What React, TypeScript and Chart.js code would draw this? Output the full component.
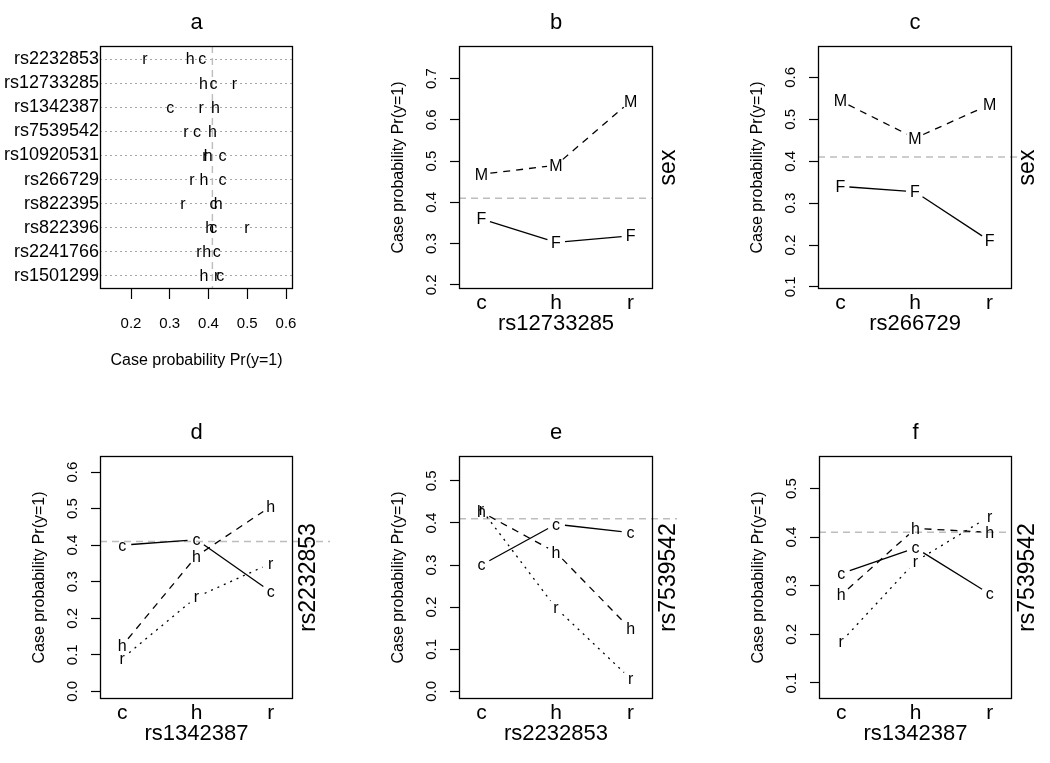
import React, { useEffect, useRef } from "react";
import { Chart, registerables } from "chart.js";
Chart.register(...registerables);

const FONT = "'Liberation Sans', Arial, Helvetica, sans-serif";

// ---------- Panel a (dot chart) ----------
const snpNames = ["rs2232853", "rs12733285", "rs1342387", "rs7539542", "rs10920531", "rs266729", "rs822395", "rs822396", "rs2241766", "rs1501299"];
const aValuesC = [0.384, 0.413, 0.301, 0.370, 0.436, 0.436, 0.413, 0.412, 0.421, 0.430];
const aValuesH = [0.353, 0.387, 0.418, 0.410, 0.399, 0.388, 0.425, 0.403, 0.395, 0.388];
const aValuesR = [0.236, 0.467, 0.381, 0.342, 0.391, 0.357, 0.334, 0.499, 0.375, 0.421];
const aTicks = [0.2, 0.3, 0.4, 0.5, 0.6];

// ---------- Interaction panels ----------
const genotypes = ["c", "h", "r"];
const refLine = 0.41;
const yTitle = "Case probability Pr(y=1)";

// b: rs12733285 x sex
const bF = [0.36, 0.303, 0.319];
const bM = [0.468, 0.49, 0.645];
const bTicks = [0.2, 0.3, 0.4, 0.5, 0.6, 0.7];
// c: rs266729 x sex
const cF = [0.34, 0.327, 0.21];
const cM = [0.544, 0.455, 0.535];
const cTicks = [0.1, 0.2, 0.3, 0.4, 0.5, 0.6];
// d: rs1342387 x rs2232853
const dC = [0.40, 0.415, 0.273];
const dH = [0.125, 0.37, 0.506];
const dR = [0.09, 0.258, 0.35];
const dTicks = [0.0, 0.1, 0.2, 0.3, 0.4, 0.5, 0.6];
// e: rs2232853 x rs7539542
const eC = [0.30, 0.397, 0.377];
const eH = [0.426, 0.33, 0.148];
const eR = [0.432, 0.198, 0.03];
const eTicks = [0.0, 0.1, 0.2, 0.3, 0.4, 0.5];
// f: rs1342387 x rs7539542
const fC = [0.325, 0.378, 0.283];
const fH = [0.281, 0.418, 0.41];
const fR = [0.185, 0.35, 0.443];
const fTicks = [0.1, 0.2, 0.3, 0.4, 0.5];

const SOLID: number[] = [];
const DASHED = [7, 6];
const DOTTED = [2, 5];

type Box = { l: number; r: number; t: number; b: number };

function rotText(ctx: CanvasRenderingContext2D, text: string, x: number, y: number, font: string) {
  ctx.save();
  ctx.translate(x, y);
  ctx.rotate(-Math.PI / 2);
  ctx.font = font;
  ctx.fillStyle = "#000";
  ctx.textAlign = "center";
  ctx.textBaseline = "middle";
  ctx.fillText(text, 0, 0);
  ctx.restore();
}

function drawBox(ctx: CanvasRenderingContext2D, a: any) {
  ctx.save();
  ctx.strokeStyle = "#000";
  ctx.lineWidth = 1.3;
  ctx.setLineDash([]);
  ctx.strokeRect(Math.round(a.left) + 0.5, Math.round(a.top) + 0.5, Math.round(a.right - a.left) - 1, Math.round(a.bottom - a.top) - 1);
  ctx.restore();
}

function drawTitle(ctx: CanvasRenderingContext2D, a: any, title: string) {
  ctx.save();
  ctx.font = `22px ${FONT}`;
  ctx.fillStyle = "#000";
  ctx.textAlign = "center";
  ctx.textBaseline = "alphabetic";
  ctx.fillText(title, (a.left + a.right) / 2, a.top - 17);
  ctx.restore();
}

function dotConfig(canvasW: number, canvasH: number, box: Box): any {
  const n = snpNames.length;
  const mk = (vals: number[]) => vals.map((v, i) => ({ x: v, y: n - i }));
  const plugin = {
    id: "dotDecor",
    afterDatasetsDraw(chart: any) {
      const ctx = chart.ctx as CanvasRenderingContext2D;
      const a = chart.chartArea;
      const xs = chart.scales.x;
      // reference line
      const px = xs.getPixelForValue(refLine);
      ctx.save();
      ctx.strokeStyle = "#bdbdbd";
      ctx.lineWidth = 1.4;
      ctx.setLineDash([7, 5]);
      ctx.beginPath();
      ctx.moveTo(px, a.top);
      ctx.lineTo(px, a.bottom);
      ctx.stroke();
      ctx.restore();
      // letters
      ctx.save();
      ctx.font = `16px ${FONT}`;
      ctx.fillStyle = "#000";
      ctx.textAlign = "center";
      ctx.textBaseline = "middle";
      chart.data.datasets.forEach((ds: any, di: number) => {
        const meta = chart.getDatasetMeta(di);
        meta.data.forEach((pt: any) => ctx.fillText(ds.label, pt.x, pt.y + 1));
      });
      ctx.restore();
      drawBox(ctx, a);
      drawTitle(ctx, a, "a");
      ctx.save();
      ctx.font = `16px ${FONT}`;
      ctx.fillStyle = "#000";
      ctx.textAlign = "center";
      ctx.textBaseline = "middle";
      ctx.fillText(yTitle, (a.left + a.right) / 2, a.bottom + 72);
      ctx.restore();
    },
  };
  return {
    type: "scatter",
    data: {
      datasets: [
        { label: "r", data: mk(aValuesR), pointRadius: 0 },
        { label: "h", data: mk(aValuesH), pointRadius: 0 },
        { label: "c", data: mk(aValuesC), pointRadius: 0 },
      ],
    },
    options: {
      animation: false,
      responsive: false,
      devicePixelRatio: 1,
      layout: { padding: { left: 0, top: box.t, right: canvasW - box.r, bottom: 0 } },
      plugins: { legend: { display: false }, tooltip: { enabled: false }, title: { display: false } },
      scales: {
        x: {
          type: "linear",
          min: 0.12,
          max: 0.618,
          afterBuildTicks: (s: any) => { s.ticks = aTicks.map((v) => ({ value: v })); },
          afterFit: (s: any) => { s.height = canvasH - box.b; },
          ticks: { callback: (v: any) => Number(v).toFixed(1), font: { size: 15, family: FONT }, color: "#000", padding: 16, maxRotation: 0, autoSkip: false },
          grid: { display: true, drawOnChartArea: false, drawTicks: true, tickLength: 10, tickColor: "#000", tickWidth: 1.2 },
          border: { display: false },
        },
        y: {
          type: "linear",
          min: 0.46,
          max: 10.54,
          afterBuildTicks: (s: any) => { s.ticks = snpNames.map((_, i) => ({ value: i + 1 })); },
          afterFit: (s: any) => { s.width = box.l; },
          ticks: { callback: (v: any) => snpNames[n - Number(v)], font: { size: 18, family: FONT }, color: "#000", padding: 1, autoSkip: false },
          grid: { display: true, drawOnChartArea: true, drawTicks: false, color: "#a8a8a8", lineWidth: 1 },
          border: { display: false, dash: [2, 3] },
        },
      },
    },
    plugins: [plugin],
  };
}

type Series = { label: string; values: number[]; dash: number[] };

function interactionConfig(p: {
  canvasW: number; canvasH: number; box: Box; title: string; xTitle: string; rightLabel: string;
  series: Series[]; yMin: number; yMax: number; yTicks: number[]; refExt: number;
}): any {
  const plugin = {
    id: "interDecor",
    afterDatasetsDraw(chart: any) {
      const ctx = chart.ctx as CanvasRenderingContext2D;
      const a = chart.chartArea;
      const ys = chart.scales.y;
      // reference line
      const py = ys.getPixelForValue(refLine);
      ctx.save();
      ctx.strokeStyle = "#bdbdbd";
      ctx.lineWidth = 1.4;
      ctx.setLineDash([7, 5]);
      ctx.beginPath();
      ctx.moveTo(a.left, py);
      ctx.lineTo(a.right + p.refExt, py);
      ctx.stroke();
      ctx.restore();
      // series lines with gaps (type "b")
      const gap = 9;
      chart.data.datasets.forEach((ds: any, di: number) => {
        const pts = chart.getDatasetMeta(di).data;
        ctx.save();
        ctx.strokeStyle = "#000";
        ctx.lineWidth = 1.3;
        ctx.setLineDash(ds.dashStyle);
        for (let i = 0; i < pts.length - 1; i++) {
          const x0 = pts[i].x, y0 = pts[i].y, x1 = pts[i + 1].x, y1 = pts[i + 1].y;
          const len = Math.hypot(x1 - x0, y1 - y0);
          if (len <= 2 * gap) continue;
          const ux = (x1 - x0) / len, uy = (y1 - y0) / len;
          ctx.beginPath();
          ctx.moveTo(x0 + ux * gap, y0 + uy * gap);
          ctx.lineTo(x1 - ux * gap, y1 - uy * gap);
          ctx.stroke();
        }
        ctx.restore();
      });
      // letters
      ctx.save();
      ctx.font = `16px ${FONT}`;
      ctx.fillStyle = "#000";
      ctx.textAlign = "center";
      ctx.textBaseline = "middle";
      chart.data.datasets.forEach((ds: any, di: number) => {
        chart.getDatasetMeta(di).data.forEach((pt: any) => ctx.fillText(ds.label, pt.x, pt.y + 1));
      });
      ctx.restore();
      drawBox(ctx, a);
      drawTitle(ctx, a, p.title);
      // y tick labels (rotated, as in R)
      ys.ticks.forEach((t: any) => {
        rotText(ctx, Number(t.value).toFixed(1), a.left - 27, ys.getPixelForValue(t.value), `15px ${FONT}`);
      });
      const cy = (a.top + a.bottom) / 2;
      rotText(ctx, yTitle, a.left - 60, cy, `16px ${FONT}`);
      rotText(ctx, p.rightLabel, a.right + 16, cy, `23px ${FONT}`);
      ctx.save();
      ctx.font = `22px ${FONT}`;
      ctx.fillStyle = "#000";
      ctx.textAlign = "center";
      ctx.textBaseline = "middle";
      ctx.fillText(p.xTitle, (a.left + a.right) / 2, a.bottom + 35);
      ctx.restore();
    },
  };
  return {
    type: "scatter",
    data: {
      datasets: p.series.map((s) => ({
        label: s.label,
        dashStyle: s.dash,
        data: s.values.map((v, i) => ({ x: i + 1, y: v })),
        pointRadius: 0,
        showLine: false,
      })),
    },
    options: {
      animation: false,
      responsive: false,
      devicePixelRatio: 1,
      layout: { padding: { left: 0, top: p.box.t, right: p.canvasW - p.box.r, bottom: 0 } },
      plugins: { legend: { display: false }, tooltip: { enabled: false }, title: { display: false } },
      scales: {
        x: {
          type: "linear",
          min: 0.7,
          max: 3.3,
          afterBuildTicks: (s: any) => { s.ticks = genotypes.map((_, i) => ({ value: i + 1 })); },
          afterFit: (s: any) => { s.height = p.canvasH - p.box.b; },
          ticks: { callback: (v: any) => genotypes[Number(v) - 1], font: { size: 21, family: FONT }, color: "#000", padding: -6, maxRotation: 0, autoSkip: false },
          grid: { display: false },
          border: { display: false },
        },
        y: {
          type: "linear",
          min: p.yMin,
          max: p.yMax,
          afterBuildTicks: (s: any) => { s.ticks = p.yTicks.map((v) => ({ value: v })); },
          afterFit: (s: any) => { s.width = p.box.l; },
          ticks: { display: false },
          grid: { display: true, drawOnChartArea: false, drawTicks: true, tickLength: 9, tickColor: "#000", tickWidth: 1.2 },
          border: { display: false },
        },
      },
    },
    plugins: [plugin],
  };
}

function ChartPanel(props: { left: number; top: number; width: number; height: number; make: () => any }) {
  const ref = useRef<HTMLCanvasElement>(null);
  useEffect(() => {
    const chart = new Chart(ref.current as HTMLCanvasElement, props.make());
    return () => chart.destroy();
  }, []);
  return (
    <canvas
      ref={ref}
      width={props.width}
      height={props.height}
      style={{ position: "absolute", left: props.left, top: props.top, width: props.width, height: props.height }}
    />
  );
}

export default function App() {
  const W = 350;
  const H1 = 400;
  const H2 = 363;
  return (
    <div style={{ position: "absolute", left: 0, top: 0, width: 1050, height: 763, background: "#fff", overflow: "hidden" }}>
      <ChartPanel left={0} top={0} width={W} height={H1} make={() => dotConfig(W, H1, { l: 100, r: 293, t: 46, b: 289 })} />
      <ChartPanel
        left={350} top={0} width={W} height={H1}
        make={() => interactionConfig({
          canvasW: W, canvasH: H1, box: { l: 109, r: 303, t: 46, b: 289 }, title: "b", xTitle: "rs12733285", rightLabel: "sex",
          series: [{ label: "F", values: bF, dash: SOLID }, { label: "M", values: bM, dash: DASHED }],
          yMin: 0.19, yMax: 0.779, yTicks: bTicks, refExt: 0,
        })}
      />
      <ChartPanel
        left={700} top={0} width={W} height={H1}
        make={() => interactionConfig({
          canvasW: W, canvasH: H1, box: { l: 118, r: 312, t: 46, b: 289 }, title: "c", xTitle: "rs266729", rightLabel: "sex",
          series: [{ label: "F", values: cF, dash: SOLID }, { label: "M", values: cM, dash: DASHED }],
          yMin: 0.095, yMax: 0.675, yTicks: cTicks, refExt: 21,
        })}
      />
      <ChartPanel
        left={0} top={400} width={W} height={H2}
        make={() => interactionConfig({
          canvasW: W, canvasH: H2, box: { l: 100, r: 293, t: 56, b: 299 }, title: "d", xTitle: "rs1342387", rightLabel: "rs2232853",
          series: [{ label: "c", values: dC, dash: SOLID }, { label: "h", values: dH, dash: DASHED }, { label: "r", values: dR, dash: DOTTED }],
          yMin: -0.021, yMax: 0.644, yTicks: dTicks, refExt: 37,
        })}
      />
      <ChartPanel
        left={350} top={400} width={W} height={H2}
        make={() => interactionConfig({
          canvasW: W, canvasH: H2, box: { l: 109, r: 303, t: 56, b: 299 }, title: "e", xTitle: "rs2232853", rightLabel: "rs7539542",
          series: [{ label: "c", values: eC, dash: SOLID }, { label: "h", values: eH, dash: DASHED }, { label: "r", values: eR, dash: DOTTED }],
          yMin: -0.018, yMax: 0.559, yTicks: eTicks, refExt: 24,
        })}
      />
      <ChartPanel
        left={700} top={400} width={W} height={H2}
        make={() => interactionConfig({
          canvasW: W, canvasH: H2, box: { l: 119, r: 312, t: 56, b: 299 }, title: "f", xTitle: "rs1342387", rightLabel: "rs7539542",
          series: [{ label: "c", values: fC, dash: SOLID }, { label: "h", values: fH, dash: DASHED }, { label: "r", values: fR, dash: DOTTED }],
          yMin: 0.067, yMax: 0.567, yTicks: fTicks, refExt: 0,
        })}
      />
    </div>
  );
}
